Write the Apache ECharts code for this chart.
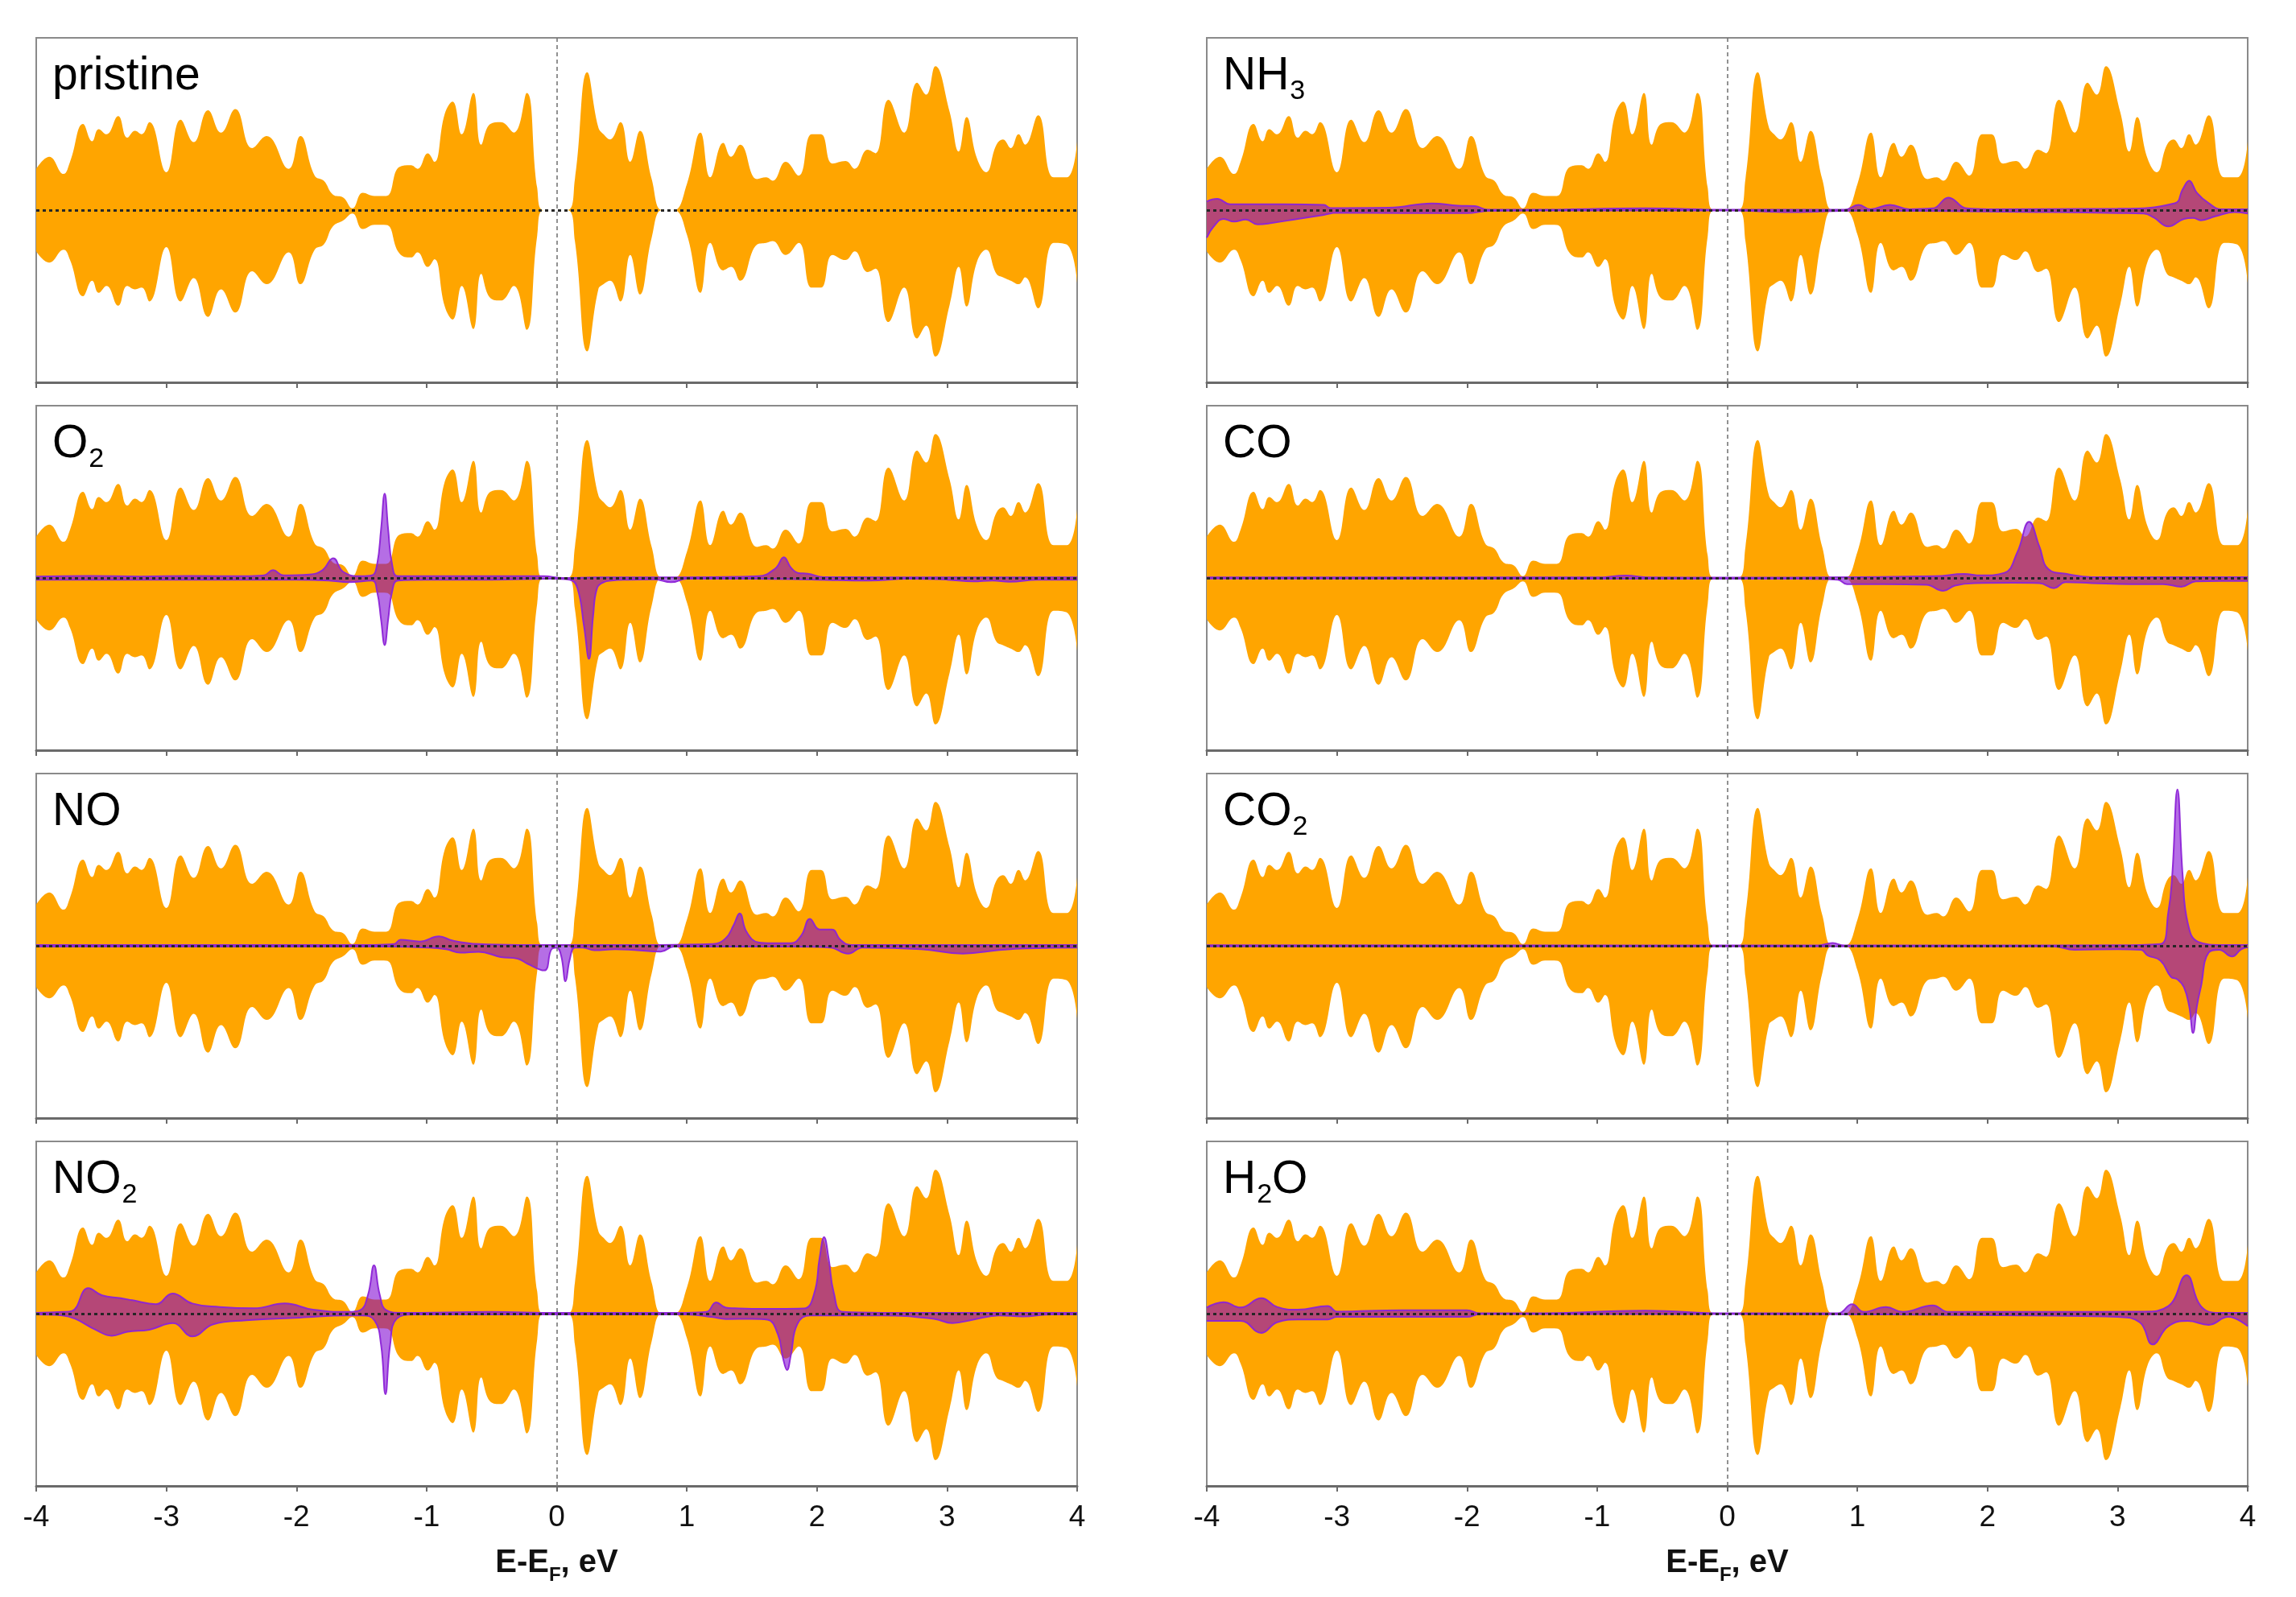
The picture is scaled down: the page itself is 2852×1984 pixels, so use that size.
<!DOCTYPE html>
<html>
<head>
<meta charset="utf-8">
<title>DOS</title>
<script src="https://cdn.jsdelivr.net/npm/echarts@6/dist/echarts.min.js"></script>
<style>
  html, body { margin: 0; padding: 0; background: #fff; }
  #chart { width: 2852px; height: 1984px; }
</style>
</head>
<body>
<div id="chart"></div>
<script>
// substrate DOS (orange), spin up / spin down, shared by all panels
const energy = [-4.0, -3.9, -3.79, -3.74, -3.64, -3.57, -3.52, -3.46, -3.37, -3.30, -3.24, -3.19, -3.13, -3.0, -2.89, -2.79, -2.68, -2.58, -2.47, -2.34,
  -2.23, -2.06, -1.97, -1.86, -1.79, -1.72, -1.64, -1.57, -1.49, -1.40, -1.31, -1.21, -1.12, -1.07, -0.99, -0.94, -0.86, -0.80, -0.73, -0.64,
  -0.58, -0.51, -0.43, -0.33, -0.23, -0.15, -0.1, 0.08, 0.14, 0.235, 0.32, 0.36, 0.41, 0.49, 0.565, 0.64, 0.73, 0.81, 0.9, 1.0,
  1.105, 1.18, 1.28, 1.34, 1.41, 1.54, 1.61, 1.66, 1.76, 1.86, 1.96, 2.03, 2.12, 2.22, 2.29, 2.39, 2.45, 2.55, 2.67, 2.77,
  2.84, 2.91, 3.02, 3.09, 3.15, 3.23, 3.30, 3.38, 3.43, 3.49, 3.55, 3.60, 3.70, 3.82, 3.92, 4.0];
const dosUp = [2.4, 3.1, 2.1, 2.8, 5.0, 4.0, 4.7, 4.4, 5.45, 4.2, 4.6, 4.4, 5.1, 2.2, 5.25, 3.95, 5.8, 4.5, 5.87, 3.6,
  4.3, 2.4, 4.3, 2.0, 1.7, 0.9, 0.73, 0.1, 1.0, 0.82, 0.82, 2.5, 2.6, 2.4, 3.3, 2.8, 5.6, 6.3, 4.4, 6.8,
  3.8, 5.0, 5.1, 4.5, 6.8, 1.3, 0, 0, 1.8, 8.0, 4.8, 4.4, 4.1, 5.1, 2.8, 4.6, 1.8, 0, 0, 1.5,
  4.5, 1.9, 3.9, 3.1, 3.8, 1.8, 1.9, 1.7, 2.8, 2.0, 4.4, 4.4, 2.7, 2.85, 2.4, 3.5, 3.3, 6.4, 4.5, 7.4,
  6.7, 8.35, 5.7, 3.4, 5.4, 3.0, 2.2, 3.8, 4.1, 3.6, 4.4, 3.8, 5.5, 1.9, 1.9, 4.0];
const dosDown = [-2.4, -3.05, -2.3, -2.9, -5.0, -4.1, -4.8, -4.4, -5.55, -4.4, -4.6, -4.5, -5.3, -2.15, -5.3, -3.95, -6.2, -4.6, -5.95, -3.55,
  -4.3, -2.45, -4.3, -2.3, -2.0, -0.95, -0.6, -0.2, -1.1, -0.85, -0.86, -2.5, -2.75, -2.45, -3.3, -2.85, -5.6, -6.35, -4.4, -6.9,
  -3.7, -5.1, -5.25, -4.4, -6.95, -1.5, 0, 0, -1.8, -8.2, -4.6, -4.3, -4.1, -5.3, -2.6, -4.9, -1.6, 0, 0, -1.4,
  -4.8, -1.9, -3.5, -3.3, -4.1, -2.0, -1.9, -1.8, -2.6, -1.9, -4.5, -4.5, -2.6, -2.9, -2.4, -3.6, -3.4, -6.5, -4.5, -7.45,
  -6.7, -8.5, -5.5, -3.3, -5.6, -3.0, -2.3, -3.7, -3.9, -4.1, -4.3, -3.9, -5.7, -1.9, -2.0, -4.2];

// adsorbate projected DOS (purple)
const o2UpE = [-4, -3.6, -3.2, -2.8, -2.4, -2.25, -2.18, -2.1, -1.9, -1.8, -1.718, -1.64, -1.5, -1.42, -1.38, -1.35, -1.322, -1.295, -1.265, -1.22,
  -1.0, -0.5, -0.1, 0.05, 0.3, 0.7, 1.2, 1.55, 1.68, 1.746, 1.8, 1.86, 1.93, 2.05, 2.5, 3.0, 3.5, 4];
const o2Up = [0.08, 0.12, 0.08, 0.12, 0.1, 0.15, 0.45, 0.15, 0.2, 0.45, 1.15, 0.35, 0.1, 0.15, 0.8, 2.8, 4.9, 2.8, 0.8, 0.1,
  0.1, 0.1, 0.1, 0, 0.03, 0.03, 0.05, 0.1, 0.55, 1.2, 0.6, 0.28, 0.25, 0.05, 0.04, 0.04, 0.04, 0.04];
const o2DnE = [-4, -3.0, -2.0, -1.75, -1.6, -1.42, -1.38, -1.35, -1.322, -1.295, -1.265, -1.22, -1.0, -0.5, -0.05, 0.1, 0.16, 0.21, 0.248, 0.28,
  0.31, 0.36, 0.42, 0.55, 0.75, 0.88, 1.0, 1.5, 2.0, 2.4, 2.7, 3.0, 3.2, 3.35, 3.48, 3.7, 4];
const o2Dn = [-0.1, -0.1, -0.1, -0.15, -0.25, -0.15, -0.8, -2.4, -3.9, -2.4, -0.8, -0.15, -0.1, -0.1, -0.05, -0.1, -0.6, -2.8, -4.7, -2.2,
  -0.6, -0.25, -0.15, -0.1, -0.08, -0.25, -0.05, -0.05, -0.1, -0.15, -0.05, -0.1, -0.2, -0.15, -0.22, -0.1, -0.1];

const noUpE = [-4, -3, -2, -1.4, -1.25, -1.2, -1.05, -0.905, -0.8, -0.6, -0.3, -0.1, 0.3, 0.8, 1.2, 1.3, 1.36, 1.406, 1.46, 1.55,
  1.65, 1.8, 1.88, 1.946, 2.02, 2.116, 2.18, 2.26, 2.5, 3, 4];
const noUp = [0.05, 0.05, 0.05, 0.05, 0.1, 0.35, 0.25, 0.55, 0.3, 0.1, 0.05, 0.05, 0.05, 0.05, 0.1, 0.45, 1.2, 1.88, 0.8, 0.2,
  0.15, 0.15, 0.6, 1.57, 0.95, 0.95, 0.35, 0.05, 0.05, 0.05, 0.05];
const noDnE = [-4, -2, -1.3, -1.0, -0.85, -0.74, -0.6, -0.43, -0.3, -0.225, -0.097, -0.04, 0.0, 0.035, 0.068, 0.1, 0.14, 0.2, 0.29, 0.45,
  0.6, 0.8, 0.9, 1.2, 1.8, 2.1, 2.24, 2.35, 2.8, 3.12, 3.4, 3.6, 4];
const noDn = [-0.05, -0.05, -0.05, -0.1, -0.2, -0.4, -0.35, -0.65, -0.75, -1.04, -1.43, -0.2, -0.1, -0.6, -2.06, -0.8, -0.1, -0.1, -0.26, -0.2,
  -0.25, -0.34, -0.05, -0.05, -0.05, -0.1, -0.45, -0.1, -0.2, -0.45, -0.25, -0.15, -0.1];

const no2UpE = [-4, -3.8, -3.725, -3.6, -3.494, -3.35, -3.262, -3.08, -2.953, -2.8, -2.59, -2.33, -2.09, -1.873, -1.6, -1.51, -1.45, -1.404, -1.36, -1.31,
  -1.2, -0.5, 0, 0.5, 1.0, 1.15, 1.226, 1.3, 1.37, 1.5, 1.7, 1.9, 1.98, 2.02, 2.055, 2.09, 2.13, 2.2, 2.5, 3, 4];
const no2Up = [0.05, 0.1, 0.16, 1.48, 1.06, 0.9, 0.78, 0.55, 1.17, 0.59, 0.39, 0.31, 0.59, 0.23, 0.1, 0.2, 1.1, 2.8, 1.1, 0.2,
  0.05, 0.1, 0.05, 0.05, 0.05, 0.1, 0.65, 0.35, 0.31, 0.28, 0.28, 0.3, 1.2, 3.2, 4.44, 3.2, 1.2, 0.1, 0.05, 0.05, 0.05];
const no2DnE = [-4, -3.8, -3.7, -3.545, -3.42, -3.3, -3.13, -2.95, -2.8, -2.64, -2.387, -1.975, -1.6, -1.5, -1.4, -1.35, -1.316, -1.28, -1.23, -1.1,
  0, 1.0, 1.2, 1.3, 1.5, 1.62, 1.7, 1.74, 1.77, 1.8, 1.85, 1.95, 2.5, 2.9, 3.04, 3.2, 3.4, 3.58, 3.8, 4];
const no2Dn = [-0.05, -0.1, -0.3, -0.93, -1.28, -1.05, -0.93, -0.55, -1.32, -0.62, -0.39, -0.23, -0.1, -0.1, -0.4, -1.8, -4.67, -1.8, -0.3, -0.05,
  -0.05, -0.05, -0.2, -0.31, -0.3, -0.35, -1.2, -2.6, -3.27, -2.4, -0.6, -0.1, -0.1, -0.3, -0.55, -0.35, -0.1, -0.16, -0.05, -0.05];

const nh3UpE = [-4, -3.92, -3.82, -3.72, -3.4, -3.10, -3.05, -2.6, -2.27, -2.07, -1.94, -1.84, -1.5, -0.63, 0, 0.9, 1.01, 1.1, 1.25, 1.4,
  1.58, 1.70, 1.84, 2.0, 3.0, 3.44, 3.5, 3.55, 3.61, 3.70, 3.8, 4];
const nh3Up = [0.5, 0.65, 0.34, 0.34, 0.34, 0.3, 0.12, 0.14, 0.39, 0.26, 0.23, 0.02, 0.02, 0.1, 0.02, 0.02, 0.3, 0.05, 0.3, 0.05,
  0.1, 0.73, 0.1, 0.05, 0.08, 0.4, 1.2, 1.7, 1.0, 0.4, 0.05, 0.05];
const nh3DnE = [-4, -3.95, -3.87, -3.79, -3.7, -3.61, -3.5, -3.30, -3.10, -3.0, -2.5, -2.0, -1.84, -1.5, 0, 0.5, 1.0, 2.5, 3.0, 3.2,
  3.28, 3.39, 3.51, 3.58, 3.64, 3.75, 3.90, 4];
const nh3Dn = [-1.6, -0.98, -0.51, -0.67, -0.55, -0.83, -0.75, -0.51, -0.28, -0.15, -0.17, -0.17, -0.05, -0.02, -0.02, -0.12, -0.03, -0.12, -0.17, -0.2,
  -0.44, -0.95, -0.51, -0.45, -0.59, -0.36, -0.12, -0.2];

const coUpE = [-4, -1.0, -0.78, -0.6, 0, 1.0, 1.6, 1.82, 1.95, 2.13, 2.23, 2.32, 2.40, 2.47, 2.61, 2.8, 4];
const coUp = [0.03, 0.03, 0.14, 0.03, 0.02, 0.05, 0.1, 0.23, 0.15, 0.3, 1.5, 3.26, 1.8, 0.5, 0.23, 0.05, 0.05];
const coDnE = [-4, 0.5, 0.85, 0.92, 1.2, 1.53, 1.66, 1.75, 1.9, 2.2, 2.4, 2.51, 2.6, 2.8, 3.1, 3.35, 3.49, 3.6, 3.8, 4];
const coDn = [-0.03, -0.05, -0.1, -0.36, -0.36, -0.4, -0.75, -0.44, -0.3, -0.28, -0.3, -0.59, -0.25, -0.3, -0.36, -0.36, -0.51, -0.2, -0.17, -0.17];

const co2UpE = [-4, 0, 0.7, 0.81, 0.9, 2, 3.0, 3.33, 3.39, 3.42, 3.46, 3.50, 3.54, 3.62, 3.8, 4];
const co2Up = [0.03, 0.02, 0.02, 0.16, 0.02, 0.02, 0.03, 0.1, 1.95, 4.1, 9.08, 4.1, 1.3, 0.23, 0.05, 0.05];
const co2DnE = [-4, 2.5, 2.67, 3.0, 3.18, 3.23, 3.33, 3.41, 3.46, 3.51, 3.55, 3.58, 3.61, 3.64, 3.70, 3.78, 3.88, 3.95, 4];
const co2Dn = [-0.03, -0.03, -0.23, -0.2, -0.23, -0.55, -0.86, -1.8, -1.95, -2.4, -3.5, -5.06, -3.5, -2.4, -0.39, -0.23, -0.62, -0.2, -0.08];

const h2oUpE = [-4, -3.87, -3.74, -3.58, -3.46, -3.3, -3.07, -3.0, -2.5, -2.0, -1.9, -1.5, -0.63, 0, 0.85, 0.96, 1.05, 1.22, 1.35, 1.58,
  1.7, 2.5, 3.2, 3.39, 3.53, 3.64, 3.78, 4];
const h2oUp = [0.36, 0.67, 0.36, 0.9, 0.39, 0.23, 0.44, 0.12, 0.2, 0.2, 0.02, 0.02, 0.17, 0.02, 0.02, 0.55, 0.1, 0.39, 0.1, 0.48,
  0.1, 0.1, 0.12, 0.44, 2.23, 0.44, 0.05, 0.05];
const h2oDnE = [-4, -3.74, -3.58, -3.46, -3.3, -3.07, -3.0, -2.0, -1.9, -1.5, 0, 2.5, 3.0, 3.17, 3.27, 3.39, 3.54, 3.70, 3.85, 4];
const h2oDn = [-0.42, -0.42, -1.12, -0.5, -0.34, -0.34, -0.19, -0.19, -0.02, -0.02, -0.02, -0.12, -0.19, -0.5, -1.79, -0.73, -0.42, -0.65, -0.19, -0.73];

const xTicks = [-4, 4, 1]; // min, max, interval

const panels = [
  { label: '{a|pristine}', col: 0, row: 0 },
  { label: '{a|O}{s|2}', col: 0, row: 1, up: [o2UpE, o2Up], dn: [o2DnE, o2Dn] },
  { label: '{a|NO}', col: 0, row: 2, up: [noUpE, noUp], dn: [noDnE, noDn] },
  { label: '{a|NO}{s|2}', col: 0, row: 3, up: [no2UpE, no2Up], dn: [no2DnE, no2Dn] },
  { label: '{a|NH}{s|3}', col: 1, row: 0, up: [nh3UpE, nh3Up], dn: [nh3DnE, nh3Dn] },
  { label: '{a|CO}', col: 1, row: 1, up: [coUpE, coUp], dn: [coDnE, coDn] },
  { label: '{a|CO}{s|2}', col: 1, row: 2, up: [co2UpE, co2Up], dn: [co2DnE, co2Dn] },
  { label: '{a|H}{s|2}{a|O}', col: 1, row: 3, up: [h2oUpE, h2oUp], dn: [h2oDnE, h2oDn] }
];

const FONT = '"Liberation Sans", Arial, Helvetica, sans-serif';
const colLeft = [45, 1499];
const rowTop = [47, 504, 961, 1418];
const gridW = 1293;
const gridH = 428;
const ORANGE = '#FFA500';
const PURPLE_FILL = 'rgba(125,0,210,0.57)';
const PURPLE_LINE = 'rgba(140,35,215,0.95)';

const pairs = (xs, ys) => xs.map((x, k) => [x, ys[k]]);

const grids = [], xAxes = [], yAxes = [], series = [], titles = [];

panels.forEach((p, i) => {
  const left = colLeft[p.col];
  const top = rowTop[p.row];
  const last = p.row === 3;
  grids.push({
    left: left, top: top, width: gridW, height: gridH,
    show: true, borderColor: '#8a8a8a', borderWidth: 2, backgroundColor: '#fff'
  });
  xAxes.push({
    gridIndex: i, type: 'value', min: xTicks[0], max: xTicks[1], interval: xTicks[2],
    axisLine: { show: true, onZero: false, lineStyle: { color: '#6a6a6a', width: 3 } },
    axisTick: { show: true, length: 7, lineStyle: { color: '#6a6a6a', width: 2 } },
    axisLabel: { show: last, fontSize: 37, color: '#111', margin: 21, fontFamily: FONT },
    splitLine: { show: false },
    name: last ? '{b|E-E}{f|F}{b|, eV}' : '',
    nameLocation: 'middle', nameGap: 68,
    nameTextStyle: {
      rich: {
        b: { fontSize: 40, fontWeight: 'bold', fontFamily: FONT, color: '#111', lineHeight: 55 },
        f: { fontSize: 24, fontWeight: 'bold', fontFamily: FONT, color: '#111', padding: [31, 0, 0, 0] }
      }
    }
  });
  yAxes.push({ gridIndex: i, type: 'value', min: -10, max: 10, show: false, splitLine: { show: false } });

  titles.push({
    text: p.label, left: left + 20, top: top + 12, padding: 0,
    textStyle: {
      fontWeight: 'normal',
      rich: {
        a: { fontSize: 57, lineHeight: 72, fontWeight: 'normal', fontFamily: FONT, color: '#000' },
        s: { fontSize: 34, fontWeight: 'normal', fontFamily: FONT, color: '#000', padding: [38, 0, 0, 1] }
      }
    }
  });

  const area = (data, fill, line, z) => ({
    type: 'line', xAxisIndex: i, yAxisIndex: i, data: data,
    smooth: 0.45, showSymbol: false, silent: true, z: z,
    lineStyle: line ? { color: line, width: 2 } : { width: 0, opacity: 0 },
    areaStyle: { color: fill, opacity: 1 }
  });

  series.push(area(pairs(energy, dosUp), ORANGE, null, 2));
  series.push(area(pairs(energy, dosDown), ORANGE, null, 2));
  if (p.up) {
    series.push(area(pairs(p.up[0], p.up[1]), PURPLE_FILL, PURPLE_LINE, 3));
    series.push(area(pairs(p.dn[0], p.dn[1]), PURPLE_FILL, PURPLE_LINE, 3));
  }
  // reference lines: zero of DOS and Fermi level
  series.push({
    type: 'line', xAxisIndex: i, yAxisIndex: i, data: [], z: 5, silent: true,
    markLine: {
      silent: true, symbol: 'none', animation: false, label: { show: false },
      data: [
        { yAxis: 0, lineStyle: { color: '#262626', type: [4, 4], width: 3 } },
        { xAxis: 0, lineStyle: { color: '#777', type: [5, 4], width: 1.6 } }
      ]
    }
  });
});

const chart = echarts.init(document.getElementById('chart'), null, { renderer: 'canvas' });
chart.setOption({
  backgroundColor: '#fff',
  animation: false,
  title: titles,
  grid: grids,
  xAxis: xAxes,
  yAxis: yAxes,
  series: series
});
</script>
</body>
</html>
